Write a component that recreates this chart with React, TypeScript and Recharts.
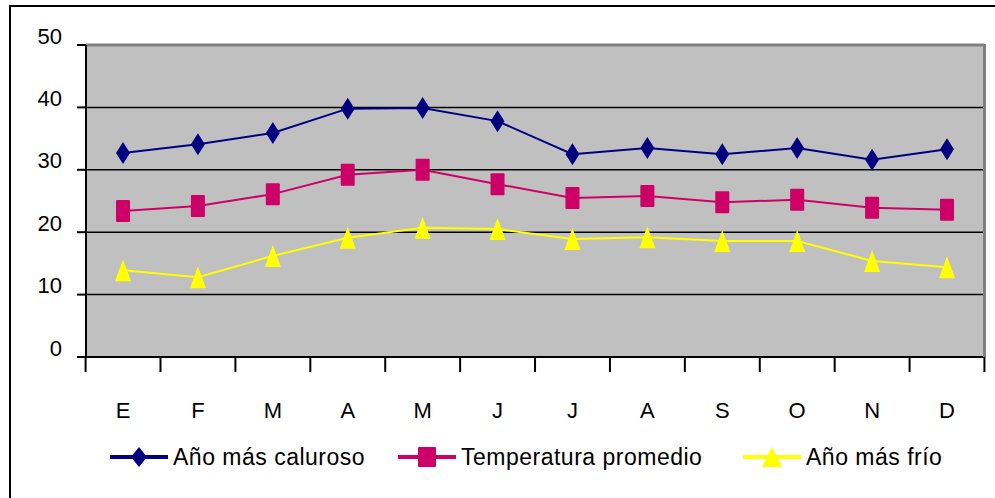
import { CartesianGrid, Line, LineChart, ReferenceLine, XAxis, YAxis } from "recharts";

const months = ["E", "F", "M", "A", "M", "J", "J", "A", "S", "O", "N", "D"];
const hottest = [32.7, 34.1, 35.9, 39.8, 39.9, 37.8, 32.5, 33.5, 32.5, 33.5, 31.6, 33.3];
const average = [23.4, 24.2, 26.1, 29.2, 30.0, 27.7, 25.5, 25.8, 24.8, 25.2, 23.9, 23.6];
const coldest = [13.9, 12.8, 16.2, 19.1, 20.7, 20.5, 18.9, 19.2, 18.6, 18.6, 15.4, 14.4];
const yTicks = [0, 10, 20, 30, 40, 50];
const gridValues = [10, 20, 30, 40];

const NAVY = "#000080";
const PINK = "#CC0066";
const YELLOW = "#FFFF00";
const FONT = "Arial, 'Liberation Sans', sans-serif";

const data = months.map((m, i) => ({
  month: m,
  hottest: hottest[i],
  average: average[i],
  coldest: coldest[i],
}));

const series = [
  { key: "hottest", name: "Año más caluroso", color: NAVY, shape: "diamond" },
  { key: "average", name: "Temperatura promedio", color: PINK, shape: "square" },
  { key: "coldest", name: "Año más frío", color: YELLOW, shape: "triangle" },
];

function Marker({ cx, cy, shape, color, w = 14, h = 22 }: any) {
  if (cx == null || cy == null) return null;
  if (shape === "diamond") {
    return (
      <polygon
        points={`${cx},${cy - h / 2} ${cx + w / 2},${cy} ${cx},${cy + h / 2} ${cx - w / 2},${cy}`}
        fill={color}
      />
    );
  }
  if (shape === "square") {
    return <rect x={cx - w / 2} y={cy - h / 2} width={w} height={h} fill={color} rx={1} />;
  }
  return (
    <polygon
      points={`${cx},${cy - h / 2} ${cx + w / 2 + 1},${cy + h / 2} ${cx - w / 2 - 1},${cy + h / 2}`}
      fill={color}
    />
  );
}

const YTick = ({ x, y, payload }: any) => (
  <text x={x} y={y - 9} textAnchor="end" dominantBaseline="central" fontSize={22} fontFamily={FONT} fill="#000">
    {payload.value}
  </text>
);

// month label in the middle of each band, tick marks on the band edges
const XTick = ({ x, y, width, payload }: any) => {
  const half = width / months.length / 2;
  const last = payload.index === months.length - 1;
  return (
    <g>
      <line x1={x - half} y1={y} x2={x - half} y2={y + 15} stroke="#000" strokeWidth={2} />
      {last && <line x1={x + half} y1={y} x2={x + half} y2={y + 15} stroke="#000" strokeWidth={2} />}
      <text x={x} y={y + 53} textAnchor="middle" dominantBaseline="central" fontSize={22} fontFamily={FONT} fill="#000">
        {payload.value}
      </text>
    </g>
  );
};

function LegendIcon({ shape, color }: any) {
  return (
    <svg width={58} height={24} style={{ display: "block" }}>
      <line x1={0} y1={12} x2={58} y2={12} stroke={color} strokeWidth={4} />
      <Marker cx={29} cy={12} shape={shape} color={color} w={shape === "diamond" ? 16 : 18} h={20} />
    </svg>
  );
}

const legendLeft = [110, 398, 743];

export default function App() {
  return (
    <div style={{ position: "relative", width: 995, height: 498, overflow: "hidden", background: "#fff" }}>
      <style>{"body{margin:0}"}</style>
      <div
        style={{
          position: "absolute",
          left: 9,
          top: 5,
          width: 1000,
          height: 1000,
          border: "2px solid #000",
        }}
      />
      <LineChart
        width={995}
        height={498}
        data={data}
        margin={{ top: 45, right: 11, left: 26, bottom: 81 }}
        style={{ position: "absolute", left: 0, top: 0 }}
      >
        <CartesianGrid fill="#C0C0C0" horizontal={false} vertical={false} />
        {gridValues.map((v) => (
          <ReferenceLine key={v} y={v} stroke="#000" strokeWidth={1.5} />
        ))}
        <ReferenceLine y={50} stroke="#808080" strokeWidth={3} />
        <XAxis
          dataKey="month"
          tick={<XTick />}
          tickLine={false}
          axisLine={{ stroke: "#000", strokeWidth: 2 }}
          tickSize={0}
          tickMargin={0}
          height={60}
          padding={{ left: 37, right: 37 }}
          interval={0}
        />
        <YAxis
          domain={[0, 50]}
          ticks={yTicks}
          width={60}
          tick={<YTick />}
          tickSize={9}
          tickMargin={15}
          tickLine={{ stroke: "#000", strokeWidth: 2 }}
          axisLine={{ stroke: "#000", strokeWidth: 2 }}
        />
        {series.map((s) => (
          <Line
            key={s.key}
            dataKey={s.key}
            name={s.name}
            stroke={s.color}
            strokeWidth={2}
            isAnimationActive={false}
            dot={(p: any) => <Marker key={`${s.key}-${p.index}`} cx={p.cx} cy={p.cy} shape={s.shape} color={s.color} />}
            activeDot={false}
          />
        ))}
      </LineChart>
      <div
        style={{
          position: "absolute",
          left: 983,
          top: 44,
          width: 3,
          height: 313,
          background: "#808080",
        }}
      />
      {series.map((s, i) => (
        <div
          key={s.key}
          style={{
            position: "absolute",
            left: legendLeft[i],
            top: 445,
            height: 24,
            display: "flex",
            alignItems: "center",
            fontFamily: FONT,
            fontSize: 23,
            letterSpacing: 0.5,
            whiteSpace: "nowrap",
          }}
        >
          <LegendIcon shape={s.shape} color={s.color} />
          <span style={{ marginLeft: 5 }}>{s.name}</span>
        </div>
      ))}
    </div>
  );
}
